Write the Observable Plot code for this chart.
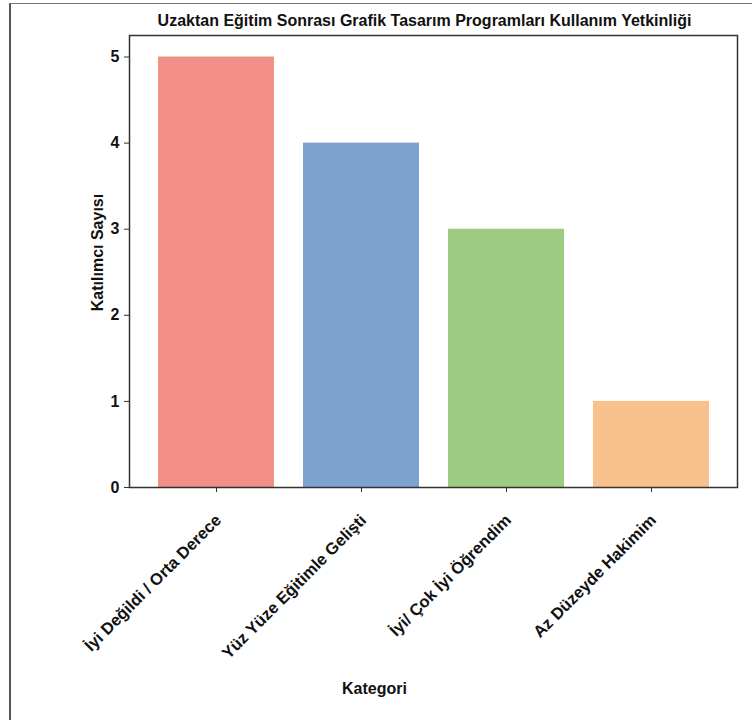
<!DOCTYPE html>
<html>
<head>
<meta charset="utf-8">
<script src="https://cdn.jsdelivr.net/npm/d3@7"></script>
<script src="https://cdn.jsdelivr.net/npm/@observablehq/plot@0.6"></script>
<style>
  html, body { margin: 0; padding: 0; background: #fff; width: 752px; height: 720px; overflow: hidden; }
  #wrap { position: relative; width: 752px; height: 720px; }
  #border { position: absolute; left: 9px; top: 3px; width: 800px; height: 800px;
            border-left: 2px solid #555; border-top: 1px solid #777; pointer-events: none; }
  #chart { position: absolute; left: 0; top: 0; }
</style>
</head>
<body>
<div id="wrap"><div id="chart"></div><div id="border"></div></div>
<script>
const title = "Uzaktan Eğitim Sonrası Grafik Tasarım Programları Kullanım Yetkinliği";
const xLabel = "Kategori";
const yLabel = "Katılımcı Sayısı";
const categories = ["İyi Değildi / Orta Derece", "Yüz Yüze Eğitimle Gelişti", "İyi/ Çok İyi Öğrendim", "Az Düzeyde Hakimim"];
const counts = [5, 4, 3, 1];
const colors = ["#f28f89", "#7ca3cf", "#9dcb82", "#f9c18e"];
const yTicks = [0, 1, 2, 3, 4, 5];

const data = categories.map((c, i) => ({cat: c, value: counts[i]}));
const font = "'Liberation Sans', Arial, Helvetica, sans-serif";

const chart = Plot.plot({
  width: 752,
  height: 720,
  marginLeft: 129,
  marginRight: 15,
  marginTop: 35,
  marginBottom: 233,
  style: {fontFamily: font, background: "transparent", color: "#222"},
  x: {domain: categories, paddingInner: 0.2, paddingOuter: 0.19, axis: null},
  y: {domain: [0, 5.25], axis: null},
  color: {domain: categories, range: colors},
  marks: [
    Plot.barY(data, {x: "cat", y: "value", fill: "cat"}),
    Plot.frame({stroke: "#333", strokeWidth: 1.5}),
    Plot.axisY({ticks: yTicks, tickFormat: d3.format("d"), tickSize: 5, tickPadding: 5, fontSize: 16, fontWeight: "bold", label: null, stroke: "#333", fill: "#111"}),
    Plot.axisX({tickSize: 5, tickFormat: () => "", label: null, stroke: "#333"}),
    Plot.text(categories, {x: d => d, frameAnchor: "bottom", rotate: -45, textAnchor: "end", lineAnchor: "middle", dx: 2, dy: 30, fontSize: 16.5, fontWeight: "bold", fill: "#111"}),
    Plot.text([title], {frameAnchor: "top", textAnchor: "middle", lineAnchor: "middle", dy: -15, dx: -9, fontSize: 16, fontWeight: "bold", fill: "#111"}),
    Plot.text([xLabel], {frameAnchor: "bottom", textAnchor: "middle", lineAnchor: "middle", dy: 201, dx: -59, fontSize: 16, fontWeight: "bold", fill: "#111"}),
    Plot.text([yLabel], {frameAnchor: "left", textAnchor: "middle", lineAnchor: "middle", rotate: -90, dx: -32, dy: -9, fontSize: 16, fontWeight: "bold", fill: "#111"})
  ]
});
document.getElementById("chart").appendChild(chart);
</script>
</body>
</html>
